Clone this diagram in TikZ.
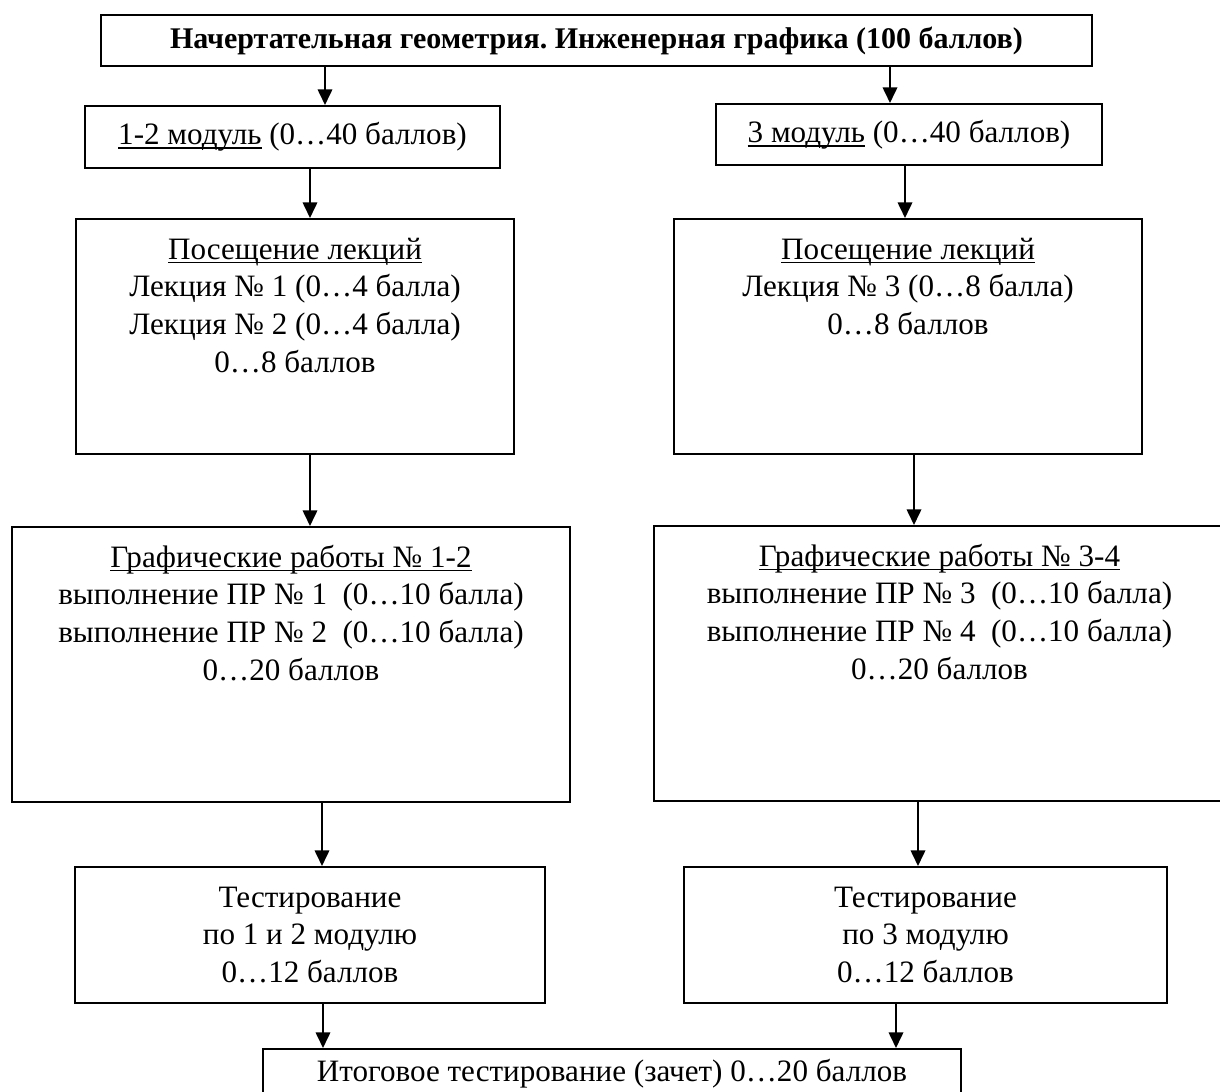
\documentclass[tikz,border=0pt]{standalone}
\usepackage{fontspec}
\setmainfont{Liberation Serif}
\frenchspacing
\usetikzlibrary{arrows.meta,positioning}
\tikzset{>={Triangle[width=6.5pt,length=7pt]},
  every node/.style={font=\fontsize{14pt}{17pt}\selectfont},
  box/.style={draw,line width=.9pt,inner sep=0pt,align=center},
  link/.style={->,line width=.9pt}}
% underlined heading, rule close to the baseline
\newcommand{\undr}[1]{\setbox0\hbox{#1}\rlap{\rule[-2pt]{\wd0}{.8pt}}\box0\relax}
% fixed-size box with the text at its top
\newcommand{\tall}[4][18pt]{\parbox[c][#3][t]{#2}{\centering\rule{0pt}{#1}#4}}

\begin{document}
\begin{tikzpicture}[x=.45pt,y=-.45pt]
\useasboundingbox (0,0) rectangle (1220,1092);
% title and modules
\node[box,minimum width=445.95pt,minimum height=22.95pt,font=\fontsize{13.5pt}{17pt}\selectfont\bfseries]
  (title) at (596.5,40.5) {Начертательная геометрия. Инженерная графика (100 баллов)};
\node[box,minimum width=186.75pt,minimum height=27.9pt] (mod12) at (292.5,137)
  {\undr{1-2 модуль} (0…40 баллов)};
\node[box,minimum width=173.7pt,minimum height=27.45pt] (mod3) at (909,134.5)
  {\undr{3 модуль} (0…40 баллов)};
% lectures
\node[box,anchor=north west] (lec12) at (75,218) {\tall{197.1pt}{105.75pt}{\undr{Посещение лекций}\\
  Лекция № 1 (0…4 балла)\\ Лекция № 2 (0…4 балла)\\ 0…8 баллов}};
\node[box,anchor=north west] (lec3) at (673,218) {\tall{210.6pt}{105.75pt}{\undr{Посещение лекций}\\
  Лекция № 3 (0…8 балла)\\ 0…8 баллов}};
% graphic works
\node[box,anchor=north west] (gr12) at (11,526) {\tall{251.1pt}{123.75pt}{\undr{Графические работы № 1-2}\\
  выполнение ПР № 1\ \ (0…10 балла)\\ выполнение ПР № 2\ \ (0…10 балла)\\ 0…20 баллов}};
\node[box,anchor=north west] (gr34) at (653,525) {\tall{256.95pt}{123.75pt}{\undr{Графические работы № 3-4}\\
  выполнение ПР № 3\ \ (0…10 балла)\\ выполнение ПР № 4\ \ (0…10 балла)\\ 0…20 баллов}};
% tests
\node[box,minimum width=211.5pt,minimum height=61.2pt] (test12) at (310,935)
  {Тестирование\\ по 1 и 2 модулю\\ 0…12 баллов};
\node[box,minimum width=217.35pt,minimum height=61.2pt] (test3) at (925.5,935)
  {Тестирование\\ по 3 модулю\\ 0…12 баллов};
\node[box,anchor=north west] (final) at (262,1048) {\tall[14.5pt]{314.1pt}{45pt}{Итоговое тестирование (зачет) 0…20 баллов}};
% arrow columns
\foreach \n/\x in {a/325,b/890,c/310,d/905,e/310,f/914,g/322,h/918,i/323,j/896}
  \coordinate (\n) at (\x,0);
\draw[link] (title.south -| a) -- (mod12.north -| a);
\draw[link] (title.south -| b) -- (mod3.north -| b);
\draw[link] (mod12.south -| c) -- (lec12.north -| c);
\draw[link] (mod3.south -| d) -- (lec3.north -| d);
\draw[link] (lec12.south -| e) -- (gr12.north -| e);
\draw[link] (lec3.south -| f) -- (gr34.north -| f);
\draw[link] (gr12.south -| g) -- (test12.north -| g);
\draw[link] (gr34.south -| h) -- (test3.north -| h);
\draw[link] (test12.south -| i) -- (final.north -| i);
\draw[link] (test3.south -| j) -- (final.north -| j);
\end{tikzpicture}
\end{document}
